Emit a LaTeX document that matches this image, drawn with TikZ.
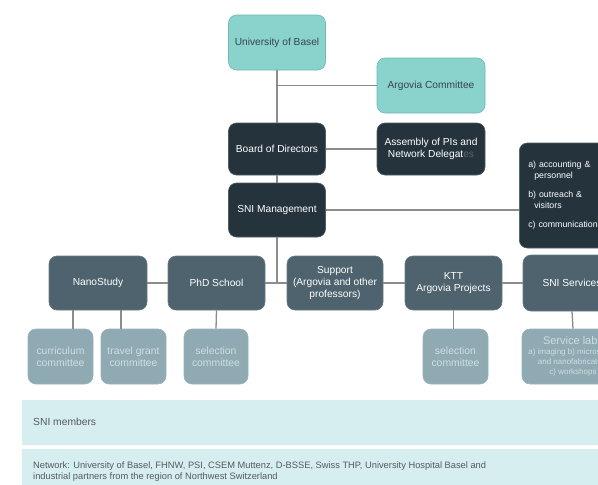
\documentclass[tikz,border=0pt]{standalone}
\usepackage{fontspec}
\setmainfont{Liberation Sans}
\definecolor{teal1}{RGB}{138,210,204}
\definecolor{teal1b}{RGB}{112,186,180}
\definecolor{navy}{RGB}{37,51,61}
\definecolor{slate}{RGB}{78,99,109}
\definecolor{pale}{RGB}{143,170,178}
\definecolor{band}{RGB}{214,238,240}
\definecolor{linec}{RGB}{140,140,140}
\definecolor{paletext}{RGB}{208,222,226}
\definecolor{toptext}{RGB}{55,70,76}
\definecolor{bandtext}{RGB}{85,90,92}
\tikzset{
  base/.style={rounded corners=8pt, align=center, inner sep=1pt, font=\fontsize{10.2}{12.4}\selectfont, line width=0.6pt},
  topbox/.style={base, fill=teal1, draw=teal1b, text=toptext},
  darkbox/.style={base, fill=navy, draw=navy!80!white, text=white},
  midbox/.style={base, fill=slate, draw=slate!85!white, text=white},
  lowbox/.style={base, fill=pale, draw=pale!90!white, text=paletext, font=\fontsize{10.4}{12.2}\selectfont},
  conn/.style={draw=linec, line width=1.3pt},
  bandbox/.style={fill=band, draw=none, anchor=north west, inner sep=0pt},
}
\begin{document}
\begin{tikzpicture}[x=1pt,y=-1pt]
\useasboundingbox (0,0) rectangle (598,485);
\fill[white] (0,0) rectangle (598,485);
\clip (0,0) rectangle (598,485);
% nodes
\node[topbox, minimum width=97pt, minimum height=55pt] (uni) at (277,42.5) {University of Basel};
\node[topbox, minimum width=108pt, minimum height=55pt] (argovia) at (431,85.5) {Argovia Committee};
\node[darkbox, minimum width=97pt, minimum height=52pt] (board) at (277,149) {Board of Directors};
\node[darkbox, minimum width=108pt, minimum height=52pt] (assembly) at (431,149) {Assembly of PIs and\\Network Delegat\textcolor{navy!75!white}{es}};
\node[darkbox, minimum width=97pt, minimum height=54pt] (mgmt) at (277,210) {SNI Management};
\node[darkbox, anchor=west, minimum width=110pt, minimum height=105pt, text width=100pt, inner xsep=9pt, align=left, font=\fontsize{8.8}{11}\selectfont] (ops) at (519,195.5) {a) accounting \&\\\hspace*{6pt}personnel\\[8pt]b) outreach \&\\\hspace*{6pt}visitors\\[8pt]c) communications};
\node[midbox, minimum width=98pt, minimum height=54pt] (nano) at (98,283) {NanoStudy};
\node[midbox, minimum width=97pt, minimum height=54pt] (phd) at (216.5,283) {PhD School};
\node[midbox, minimum width=96pt, minimum height=54pt] (support) at (335,283) {Support\\(Argovia and other\\professors)};
\node[midbox, minimum width=97pt, minimum height=54pt] (ktt) at (453.5,283) {KTT\\Argovia Projects};
\node[midbox, minimum width=98pt, minimum height=56pt] (services) at (572,283) {SNI Services};
\node[lowbox, minimum width=65pt, minimum height=55pt] (curr) at (60.5,356.5) {curriculum\\committee};
\node[lowbox, minimum width=65pt, minimum height=55pt] (travel) at (133.5,356.5) {travel grant\\committee};
\node[lowbox, minimum width=64pt, minimum height=55pt] (sel1) at (216,356.5) {selection\\committee};
\node[lowbox, minimum width=65pt, minimum height=55pt] (sel2) at (455.5,356.5) {selection\\committee};
\node[lowbox, minimum width=102pt, minimum height=55pt, font=\fontsize{8}{9.8}\selectfont] (labs) at (573,356.5) {{\fontsize{11}{12}\selectfont Service labs}\\a) imaging b) microscopy\\and nanofabrication\\c) workshops};
% bands
\node[bandbox, minimum width=600pt, minimum height=45pt] (members) at (22,400) {};
\node[anchor=west, text=bandtext, font=\fontsize{10.3}{12}\selectfont, inner sep=0pt] (memberstxt) at (33,422) {SNI members};
\node[bandbox, minimum width=600pt, minimum height=50pt] (network) at (22,449) {};
\node[anchor=west, text=bandtext, font=\fontsize{9.3}{11.2}\selectfont, align=left, inner sep=0pt] (networktxt) at (33,471.5) {Network: University of Basel, FHNW, PSI, CSEM Muttenz, D-BSSE, Swiss THP, University Hospital Basel and\\industrial partners from the region of Northwest Switzerland};
% connectors
\coordinate (j) at (277,283);
\draw[conn] (uni.south) -- (board.north);
\draw[conn] (uni.south |- argovia.west) -- (argovia.west);
\draw[conn] (board.east) -- (assembly.west);
\draw[conn] (board.south) -- (mgmt.north);
\draw[conn] (mgmt.south) -- (j);
\draw[conn] (mgmt.east) -- (mgmt.east -| ops.west);
\draw[conn] (nano.east) -- (phd.west);
\draw[conn] (phd.east) -- (support.west);
\draw[conn] (support.east) -- (ktt.west);
\draw[conn] (ktt.east) -- (services.west);
\draw[conn] ([xshift=-25pt]nano.south) -- ([xshift=-25pt]nano.south |- curr.north);
\draw[conn] ([xshift=23pt]nano.south) -- ([xshift=23pt]nano.south |- travel.north);
\draw[conn] (phd.south) -- (sel1.north);
\draw[conn] (ktt.south) -- (ktt.south |- sel2.north);
\draw[conn] (services.south) -- (labs.north);
\end{tikzpicture}
\end{document}
